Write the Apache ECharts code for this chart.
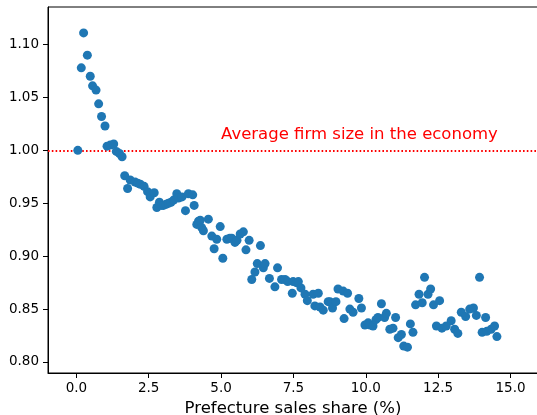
<!DOCTYPE html>
<html>
<head>
<meta charset="utf-8">
<script src="https://cdn.jsdelivr.net/npm/echarts@6/dist/echarts.min.js"></script>
<style>
  html, body { margin: 0; padding: 0; background: #fff; }
  #chart { width: 537px; height: 415px; }
</style>
</head>
<body>
<div id="chart"></div>
<script>
// Prefecture sales share (%) against relative average firm size
const shareX = [
  0.05, 0.17, 0.25, 0.38, 0.48, 0.56, 0.68, 0.77, 0.87, 0.99,
  1.06, 1.17, 1.29, 1.38, 1.49, 1.58, 1.67, 1.77, 1.86, 2.03,
  2.12, 2.21, 2.34, 2.46, 2.55, 2.69, 2.78, 2.87, 2.95, 3.01,
  3.10, 3.18, 3.27, 3.36, 3.47, 3.53, 3.65, 3.77, 3.87, 4.02,
  4.07, 4.16, 4.22, 4.28, 4.33, 4.39, 4.56, 4.68, 4.76, 4.85,
  4.97, 5.06, 5.20, 5.30, 5.37, 5.48, 5.55, 5.66, 5.77, 5.86,
  5.97, 6.06, 6.17, 6.25, 6.36, 6.46, 6.52, 6.67, 6.86, 6.95,
  7.09, 7.21, 7.30, 7.46, 7.49, 7.60, 7.67, 7.76, 7.90, 7.98,
  8.18, 8.24, 8.36, 8.42, 8.53, 8.70, 8.76, 8.85, 8.97, 9.04,
  9.22, 9.25, 9.37, 9.45, 9.56, 9.76, 9.85, 9.97, 10.08, 10.15,
  10.25, 10.35, 10.42, 10.54, 10.65, 10.71, 10.83, 10.94, 11.03, 11.12,
  11.23, 11.31, 11.44, 11.54, 11.63, 11.72, 11.84, 11.95, 12.03, 12.15,
  12.24, 12.34, 12.44, 12.55, 12.63, 12.78, 12.95, 13.07, 13.18, 13.30,
  13.45, 13.59, 13.72, 13.82, 13.93, 14.02, 14.14, 14.18, 14.33, 14.45,
  14.53
];
const firmSize = [
  1.000, 1.078, 1.111, 1.090, 1.070, 1.061, 1.057, 1.044, 1.032, 1.023,
  1.004, 1.005, 1.006, 0.999, 0.997, 0.994, 0.976, 0.964, 0.972, 0.970,
  0.969, 0.968, 0.966, 0.961, 0.956, 0.960, 0.946, 0.951, 0.948, 0.948,
  0.949, 0.950, 0.951, 0.953, 0.959, 0.955, 0.956, 0.943, 0.959, 0.958,
  0.948, 0.930, 0.933, 0.934, 0.927, 0.924, 0.935, 0.919, 0.907, 0.916,
  0.928, 0.898, 0.916, 0.917, 0.917, 0.913, 0.915, 0.921, 0.923, 0.906,
  0.915, 0.878, 0.885, 0.893, 0.910, 0.889, 0.893, 0.879, 0.871, 0.889,
  0.878, 0.878, 0.876, 0.865, 0.876, 0.875, 0.876, 0.870, 0.864, 0.858,
  0.864, 0.853, 0.865, 0.852, 0.849, 0.857, 0.857, 0.851, 0.857, 0.869,
  0.867, 0.841, 0.865, 0.850, 0.847, 0.860, 0.851, 0.835, 0.837, 0.835,
  0.834, 0.840, 0.842, 0.855, 0.842, 0.846, 0.831, 0.832, 0.842, 0.823,
  0.826, 0.815, 0.814, 0.836, 0.828, 0.854, 0.864, 0.856, 0.880, 0.864,
  0.869, 0.854, 0.834, 0.858, 0.832, 0.834, 0.839, 0.831, 0.827, 0.847,
  0.843, 0.850, 0.851, 0.844, 0.880, 0.828, 0.842, 0.829, 0.831, 0.834,
  0.824
];

const xTicks = [0.0, 2.5, 5.0, 7.5, 10.0, 12.5, 15.0];
const yTicks = [0.80, 0.85, 0.90, 0.95, 1.00, 1.05, 1.10];

const economyAverage = 1.0;
const noteText = 'Average firm size in the economy';
const notePos = [5.0, 1.01];
const xTitle = 'Prefecture sales share (%)';

const FONT = 'DejaVu Sans';
const points = shareX.map((x, i) => [x, firmSize[i]]);

const chart = echarts.init(document.getElementById('chart'), null, { renderer: 'canvas' });
chart.setOption({
  animation: false,
  backgroundColor: '#ffffff',
  grid: {
    left: 48, right: -1, top: 7, bottom: 42,
    outerBoundsMode: 'none',
    containLabel: false,
    show: true, borderColor: '#000', borderWidth: 1, backgroundColor: 'transparent'
  },
  xAxis: {
    type: 'value',
    min: -0.98, max: 15.95,
    name: xTitle,
    nameLocation: 'middle',
    nameGap: 25,
    nameTextStyle: { fontFamily: FONT, fontSize: 16.5, color: '#000' },
    axisLine: { show: true, onZero: false, lineStyle: { color: '#000', width: 1 } },
    axisTick: { show: true, length: 5, inside: false, customValues: xTicks, lineStyle: { color: '#000', width: 1 } },
    axisLabel: {
      customValues: xTicks, margin: 8,
      fontFamily: FONT, fontSize: 13.5, color: '#000',
      formatter: v => v.toFixed(1)
    },
    splitLine: { show: false }
  },
  yAxis: {
    type: 'value',
    min: 0.7896, max: 1.1355,
    axisLine: { show: true, onZero: false, lineStyle: { color: '#000', width: 1 } },
    axisTick: { show: true, length: 5, inside: false, customValues: yTicks, lineStyle: { color: '#000', width: 1 } },
    axisLabel: {
      customValues: yTicks, margin: 9,
      fontFamily: FONT, fontSize: 13.5, color: '#000',
      formatter: v => v.toFixed(2)
    },
    splitLine: { show: false }
  },
  series: [{
    type: 'scatter',
    data: points,
    symbol: 'circle',
    symbolSize: 9,
    itemStyle: { color: '#1f77b4', opacity: 1 },
    z: 3,
    markLine: {
      silent: true,
      symbol: ['none', 'none'],
      label: { show: false },
      lineStyle: { color: '#ff0000', width: 1.8, type: [1.6, 2.2], opacity: 1 },
      data: [{ yAxis: economyAverage }],
      z: 2
    },
    markPoint: {
      silent: true,
      symbol: 'circle',
      symbolSize: 0,
      itemStyle: { color: 'transparent' },
      label: {
        show: true,
        position: [0, 0],
        offset: [0, 3],
        align: 'left',
        verticalAlign: 'bottom',
        fontFamily: FONT,
        fontSize: 16.5,
        color: '#ff0000',
        formatter: noteText
      },
      data: [{ coord: notePos }]
    }
  }]
});
</script>
</body>
</html>
